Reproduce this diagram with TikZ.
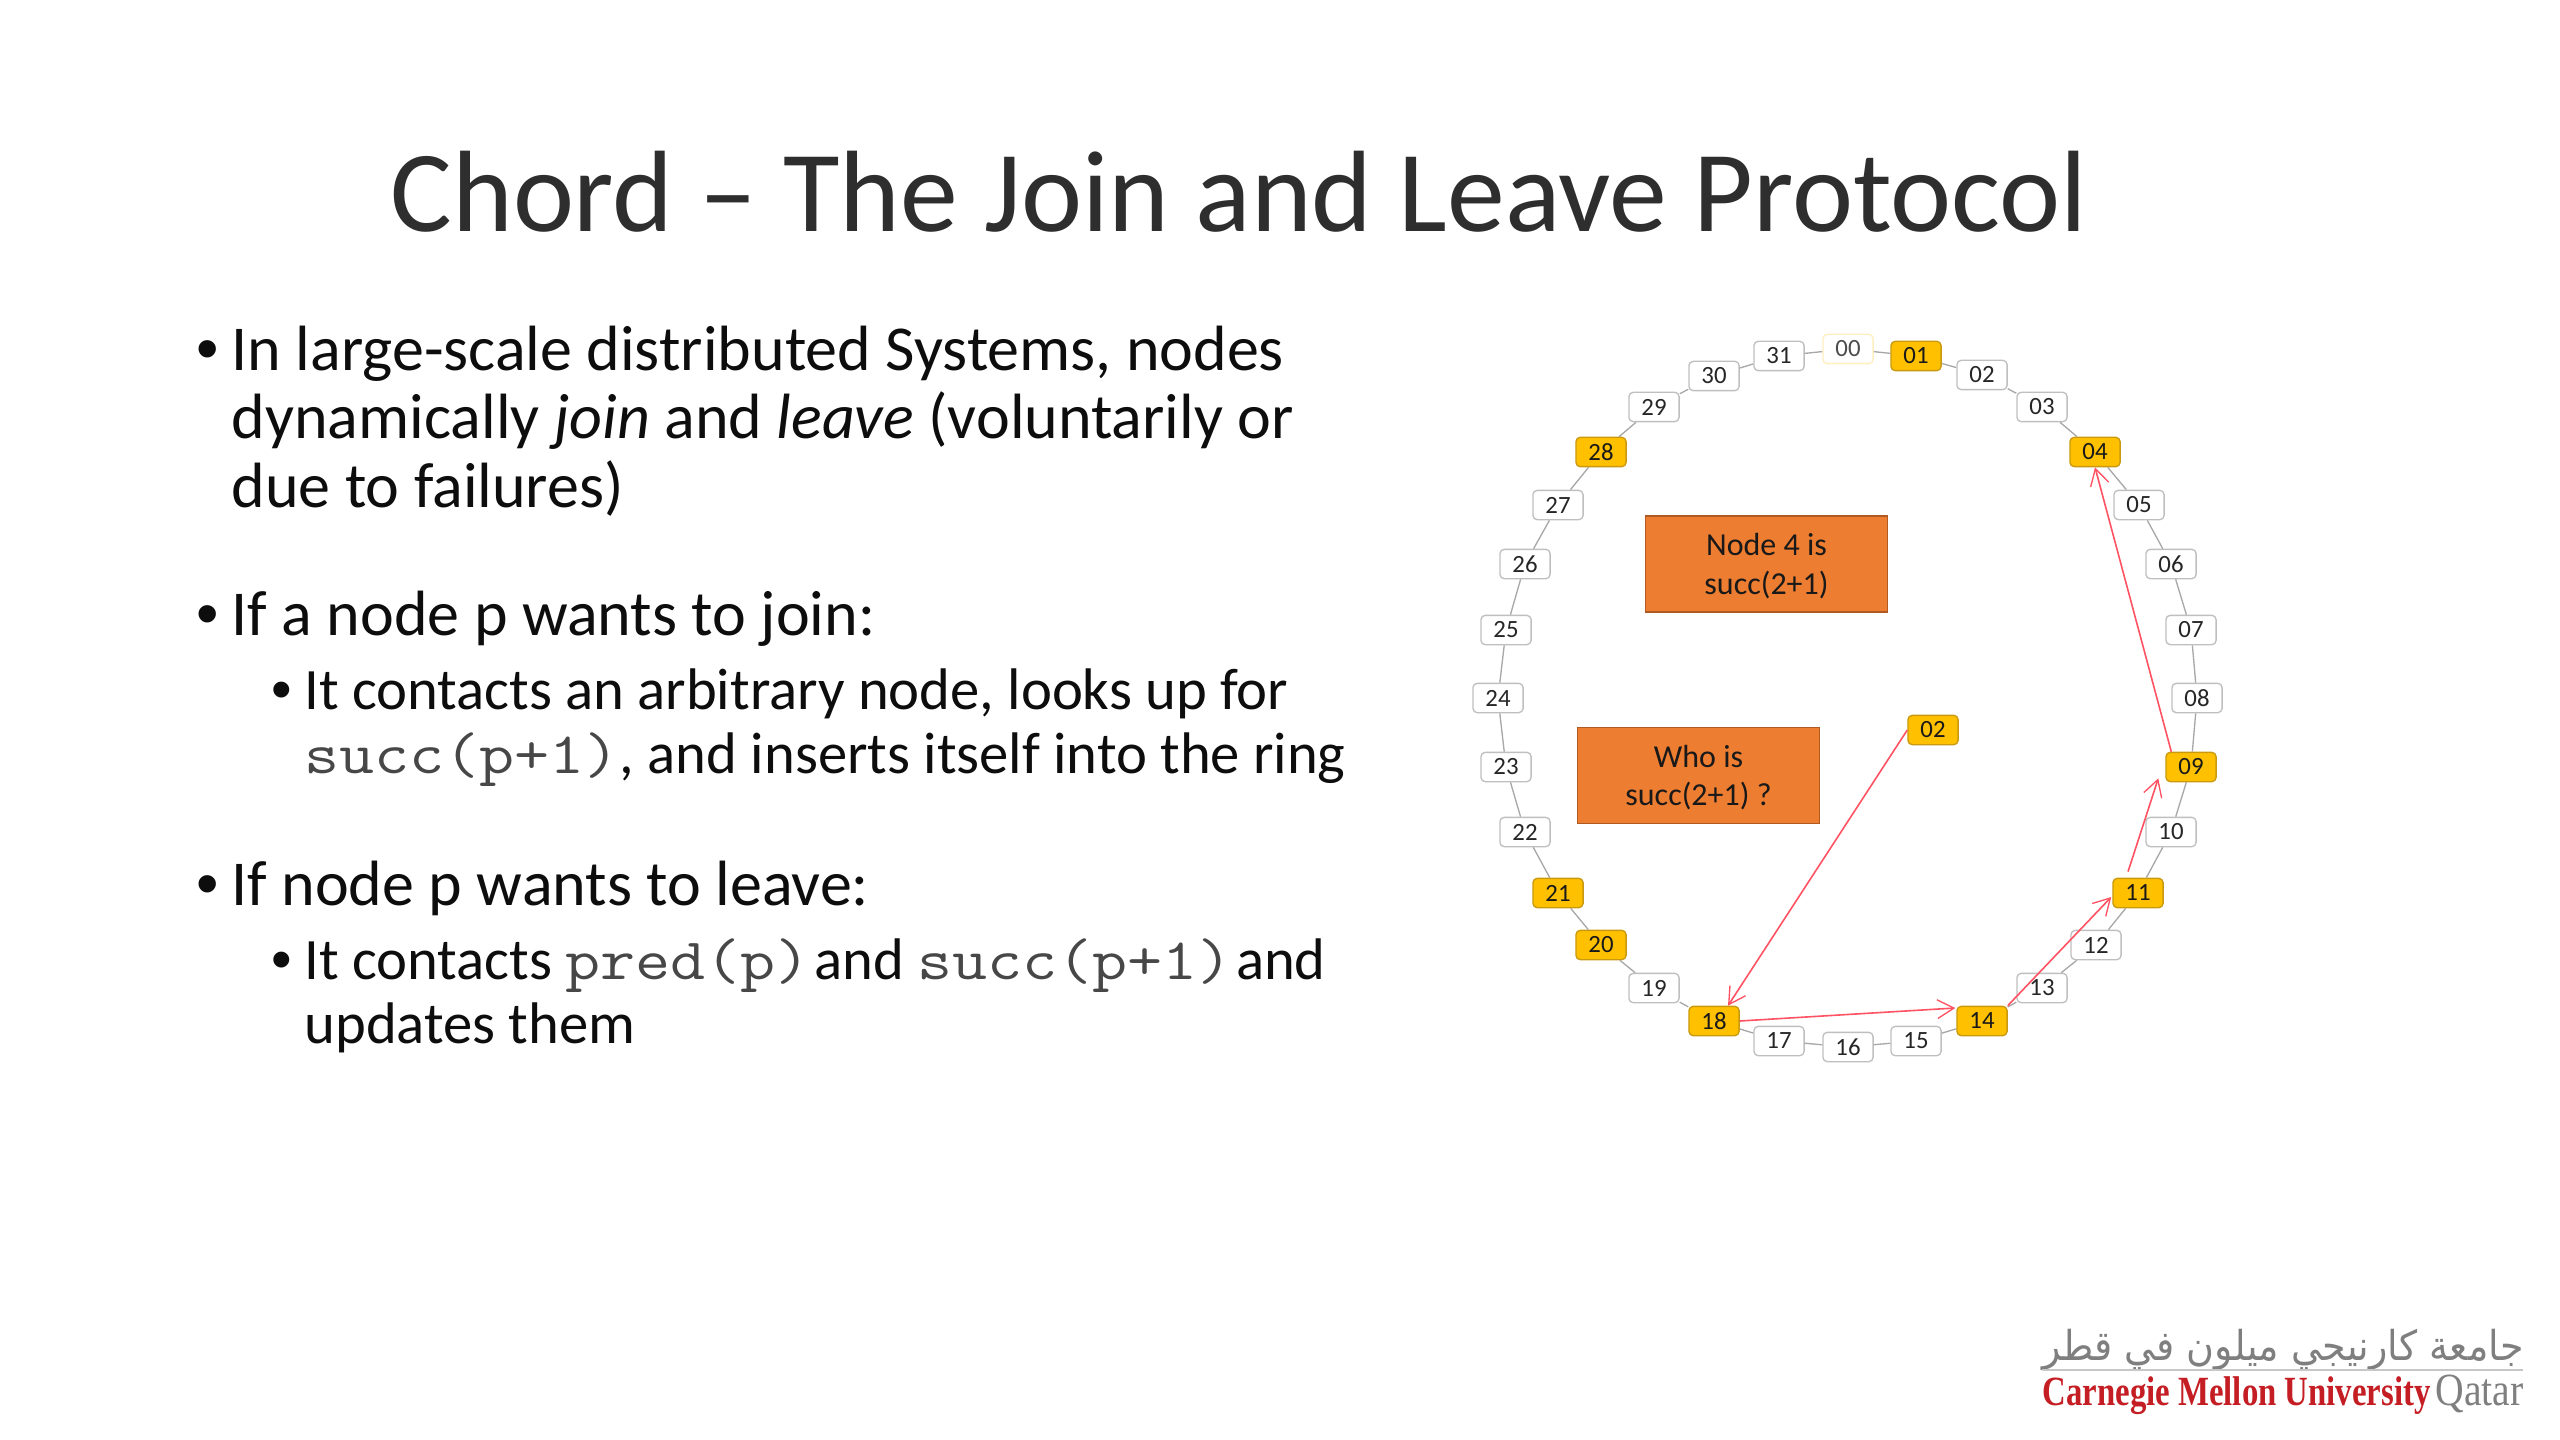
\documentclass[tikz,border=0pt]{standalone}
\usepackage{fontspec}
\usepackage{graphicx}
\usetikzlibrary{arrows.meta}
\setmainfont{Carlito}
\newfontfamily\arabicfont[Script=Arabic]{DejaVu Sans}
\newfontfamily\logoserif{Liberation Serif}
\newfontfamily\bulletfont{Liberation Sans}
\TeXXeTstate=1
\definecolor{ringline}{HTML}{A8A8A8}
\definecolor{gold}{HTML}{FFC000}
\definecolor{goldline}{HTML}{C99A10}
\definecolor{boxorange}{HTML}{ED7D31}
\definecolor{boxline}{HTML}{AE5A21}
\definecolor{arrowred}{HTML}{FF5262}
\definecolor{logored}{HTML}{C41E24}
\definecolor{logogrey}{HTML}{7F7F7F}
\tikzset{
  x=0.375pt,y=-0.375pt,
  ringbase/.style={rounded corners=1.6pt,minimum width=18.8pt,minimum height=11pt,inner sep=0pt,
    font=\fontsize{9.3pt}{10pt}\selectfont,line width=0.5pt},
  free/.style={ringbase,draw=black!25,fill=white,text=black!85},
  peer/.style={ringbase,draw=goldline,fill=gold,text=black!90},
  vacant/.style={ringbase,draw=gold!25,fill=white,text=black!70},
  ringedge/.style={draw=ringline,line width=0.5pt},
  hop/.style={draw=arrowred,line width=0.6pt,-{Straight Barb[length=6.2pt,width=7pt,line width=0.5pt]}},
  note/.style={draw=boxline,fill=boxorange,line width=0.6pt,minimum width=90.75pt,minimum height=36pt,inner sep=0pt,
    align=center,font=\fontsize{12pt}{14.4pt}\selectfont,text=black!90},
  lvlone/.style={anchor=base west,inner sep=0pt,align=left,font=\fontsize{24pt}{25.7pt}\selectfont,text=black!95},
  lvltwo/.style={anchor=base west,inner sep=0pt,align=left,font=\fontsize{22pt}{23.9pt}\selectfont,text=black!95},
}
\newcommand{\blt}[1]{\llap{{\bulletfont •}\hspace{#1}}}
\newcommand{\code}[1]{\scalebox{1.16}[1]{\ttfamily\fontsize{22pt}{24pt}\selectfont\addfontfeature{LetterSpace=4.8}\color{black!72}#1}}
\begin{document}
\begin{tikzpicture}
\useasboundingbox (0,0) rectangle (2560,1440);
\node[anchor=base,inner sep=0pt,font=\fontsize{43.4pt}{50pt}\selectfont,text=black!82] (title) at (1239,232) {Chord – The Join and Leave Protocol};

\node[lvlone] (p1) at (231,507.5) {\blt{4.8pt}In large-scale distributed Systems, nodes\\dynamically \textit{join} and \textit{leave} (voluntarily or\\due to failures)};
\node[lvlone] (p2) at (231,635.5) {\blt{4.8pt}If a node p wants to join:};
\node[lvltwo] (p3) at (304,773.5) {\blt{4.8pt}It contacts an arbitrary node, looks up for\\\code{succ(p+1)}, and inserts itself into the ring};
\node[lvlone] (p4) at (231,905) {\blt{4.8pt}If node p wants to leave:};
\node[lvltwo] (p5) at (304,1043) {\blt{4.8pt}It contacts \code{pred(p)}\kern-3.7pt{} and \code{succ(p+1)}\kern-3.7pt{} and\\updates them};

% ring
\foreach \n/\px/\py/\st in {
 00/1848/349/vacant, 01/1916/356/peer, 02/1982/375/free, 03/2042/407/free,
 04/2095/452/peer, 05/2139/505/free, 06/2171/564/free, 07/2191/630/free,
 08/2197/698/free, 09/2191/767/peer, 10/2171/832/free, 11/2138/893/peer,
 12/2096/945/free, 13/2042/988/free, 14/1982/1021/peer, 15/1916/1041/free,
 16/1848/1047/free, 17/1779/1041/free, 18/1714/1021/peer, 19/1654/988/free,
 20/1601/945/peer, 21/1558/893/peer, 22/1525/832/free, 23/1506/767/free,
 24/1498/698/free, 25/1506/630/free, 26/1525/564/free, 27/1558/505/free,
 28/1601/452/peer, 29/1654/407/free, 30/1714/376/free, 31/1779/356/free}
 {\node[\st] (n\n) at (\px,\py) {\n};}
\foreach \a/\b in {00/01,01/02,02/03,03/04,04/05,05/06,06/07,07/08,08/09,09/10,10/11,11/12,12/13,13/14,14/15,15/16,16/17,17/18,18/19,19/20,20/21,21/22,22/23,23/24,24/25,25/26,26/27,27/28,28/29,29/30,30/31,31/00}
 {\draw[ringedge] (n\a) -- (n\b);}

\node[peer] (joiner) at (1933,730) {02};
\node[note] (answer) at (1766.5,564) {\rule{0pt}{10pt}Node 4 is\\succ(2+1)};
\node[note] (question) at (1698.5,775.5) {\rule{0pt}{10pt}Who is\\succ(2+1) ?};

\draw[hop] (joiner.west) -- ([shift={(14,0)}]n18.north);
\draw[hop] (n18.east) -- ([shift={(-1,-13)}]n14.west);
\draw[hop] (n14.north east) -- ([shift={(-1,4)}]n11.west);
\draw[hop] ([shift={(-10,-6)}]n11.north) -- ([shift={(-7,-4)}]n09.south west);
\draw[hop] ([shift={(6,0)}]n09.north west) -- (n04.south);

% logo
\node[anchor=base west,inner sep=0pt,text=logogrey] (logoar) at (2042,1360) {\resizebox*{180.4pt}{15.5pt}{\hbox{\arabicfont\beginR جامعة كارنيجي ميلون في قطر\endR}}};
\draw[draw=black!22,line width=0.6pt] (2042,1370) -- (2523,1370);
\node[anchor=base west,inner sep=0pt,text=logored] (logocmu) at (2042,1405) {\resizebox*{145.5pt}{14.25pt}{\logoserif\bfseries Carnegie Mellon University}};
\node[anchor=base west,inner sep=0pt,text=logogrey] (logoq) at (2435,1405) {\resizebox*{33pt}{14.25pt}{\logoserif Qatar}};
\end{tikzpicture}
\end{document}
